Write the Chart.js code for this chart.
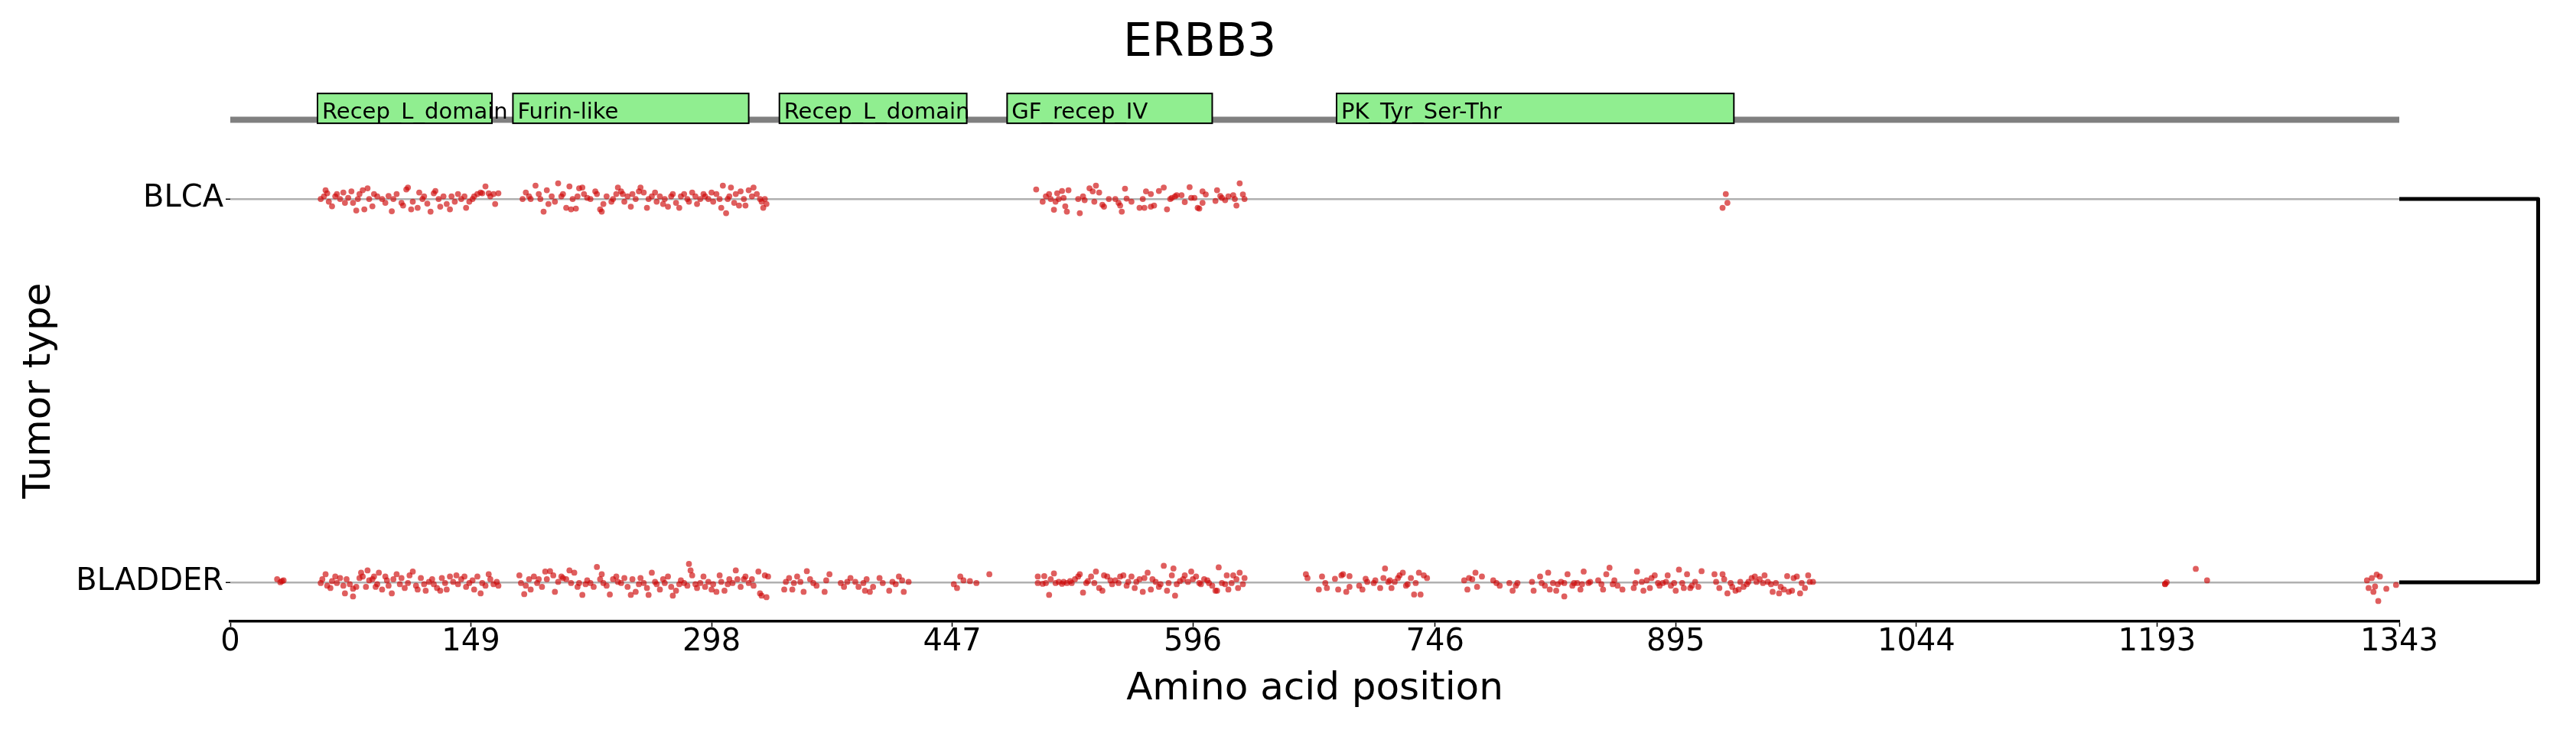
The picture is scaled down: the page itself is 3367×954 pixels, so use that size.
<!DOCTYPE html>
<html>
<head>
<meta charset="utf-8">
<script src="https://cdn.jsdelivr.net/npm/chart.js@4.4.1/dist/chart.umd.min.js"></script>
<style>
  html, body { margin: 0; padding: 0; background: #fff; }
  canvas { display: block; }
</style>
</head>
<body>
<canvas id="mutChart" width="3367" height="954"></canvas>
<script>
const proteinName = 'ERBB3';
const proteinLength = 1343;
const tumorTypes = ['BLADDER', 'BLCA'];   // y = 0, y = 1
const xTickValues = [0, 149, 298, 447, 596, 746, 895, 1044, 1193, 1343];

// Pfam domains (amino acid ranges)
const domainNames = ['Recep_L_domain', 'Furin-like', 'Recep_L_domain', 'GF_recep_IV', 'PK_Tyr_Ser-Thr'];
const domainStart = [54, 175, 340, 481, 685];
const domainEnd = [162, 321, 456, 608, 931];

// mutation positions (amino acid) and vertical jitter (% of row spacing)
const blcaPos = [
  56,58,59,60,61,63,65,66,68,70,71,73,75,76,78,79,80,82,83,85,86,88,89,91,94,96,98,100,101,103,
  106,107,109,110,112,113,116,117,119,120,122,124,126,127,129,130,132,134,136,137,139,141,143,145,146,
  148,150,151,153,155,156,158,160,161,163,164,166,
  181,183,185,186,189,191,192,194,196,197,199,201,203,205,206,208,210,211,212,214,215,216,218,219,221,
  223,226,227,229,230,231,233,236,237,239,240,242,243,244,246,248,249,251,253,254,256,258,259,261,263,
  264,266,268,269,271,273,274,276,278,279,281,283,284,286,288,289,291,293,294,296,298,299,301,303,304,
  305,307,308,309,310,312,313,315,316,318,319,321,323,324,326,328,329,330,331,332,
  499,503,505,507,508,510,511,512,513,515,516,517,518,519,525,526,528,529,532,534,535,536,538,540,541,
  544,548,550,551,552,554,555,558,563,565,566,567,570,570,572,575,578,580,582,583,585,586,589,591,594,
  595,597,599,600,602,602,604,610,611,613,614,616,618,621,622,623,625,627,628,
  924,926,927
];
const blcaJit = [
  0,0.7,2.3,1.5,-0.7,-1.9,0.7,1.3,0,1.7,-1,0.3,2,-1,-3,0,1.3,2.3,-2.7,2.8,0,-1.9,1.3,0.7,0,-1,0.8,-3.2,0,1.3,
  -1,-1.7,2.5,3,-2.7,-0.7,-2.3,1.7,0,0.7,-1.2,-3.3,1.5,2.1,0,-2,0.7,-1.3,-2.7,0.7,-0.7,1.3,0,0.7,-2.3,
  -0.7,0,0.7,1.3,1.7,1.5,3.3,1.5,0.7,1.3,-1.3,1.5,
  0,1.7,0.7,0,3.5,1.3,0,-3.3,2.3,-1.3,0.7,-0.7,4.1,0.7,1.3,-2.3,3.3,-2.7,0,-2.5,0.7,2.8,3,1.3,0.3,
  0,2,1.3,-2.7,-3.3,-1.3,0.7,-0.7,0,1.3,3,2,1.3,-0.7,0.7,-2,1.3,0,2,3,1.7,-2.3,0,0.7,1.7,
  -0.7,0.7,-1.3,0,-2,0.7,1.3,-1,-2.3,0.7,1.3,0,-0.7,1.7,0.7,-1.3,0,1.3,0.7,0,1.7,-0.7,1.3,0,-2.3,
  3.5,-3.7,0,0.7,3,-1,1.3,-1.7,2,0,-1.7,2.3,0.7,3,1.3,0,-0.7,-2.3,0,-1.3,
  2.5,-0.7,0.7,1.3,0,-2.8,-0.7,1.5,0,2.1,0.3,-1.9,-3.3,2.3,0,-3.7,0.7,-0.3,2.8,2,-0.7,3.5,1.7,-1.5,-2,
  0,0,-1,-1.7,-3.3,2.7,0.1,-0.7,-2.3,0,-2.3,2,-2,1.3,-1.7,2.1,3,-2.7,0,0.3,0.7,1,1,-0.8,3.1,
  0.3,0.3,-2.3,-2.5,2,-1,1.2,-0.5,2.3,0.8,0.3,-0.3,0.7,1,0,-1.7,4.1,1.2,0,
  -2.3,1.3,-1
];
const bladderPos = [
  29,31,32,33,
  56,57,59,60,62,63,65,66,68,70,71,72,74,76,76,78,80,81,82,84,85,86,88,89,90,91,92,94,96,97,
  98,100,101,103,105,106,108,110,111,113,115,116,118,120,121,123,125,126,128,130,131,133,134,136,138,
  140,141,143,145,146,148,150,151,153,155,156,158,160,161,163,165,166,
  179,180,182,183,185,186,188,190,191,193,195,196,198,200,201,203,205,206,208,210,211,213,215,216,218,
  220,221,223,225,227,229,230,231,233,235,237,239,240,242,244,246,248,249,251,253,254,256,258,259,261,
  263,264,266,268,269,271,273,274,276,278,279,281,283,284,285,286,288,289,291,293,294,296,298,299,301,
  303,304,306,308,309,311,313,314,316,318,319,321,323,324,327,328,329,331,332,333,
  343,344,346,348,349,351,353,355,357,359,361,363,368,369,371,
  378,380,382,384,387,389,392,393,394,396,398,402,404,408,410,412,414,416,417,420,
  448,450,452,454,458,462,470,
  500,500,503,504,505,507,508,510,511,513,515,516,518,520,521,523,525,526,528,530,531,533,535,536,538,
  540,541,543,545,546,548,550,551,553,555,556,558,560,561,563,565,566,568,570,571,573,575,576,578,580,
  581,583,584,585,586,588,590,591,593,595,596,598,600,601,603,605,606,608,610,611,612,614,616,617,618,
  620,621,623,624,625,627,628,
  666,667,674,676,678,679,684,686,688,689,691,693,693,699,701,703,704,708,709,712,714,715,717,718,719,
  721,723,724,726,728,729,731,733,734,736,737,739,741,
  764,766,767,769,771,772,775,782,784,786,792,794,796,797,806,807,811,812,814,816,817,819,821,822,824,
  826,826,828,831,832,834,836,837,838,841,842,847,849,850,852,854,856,857,859,862,869,870,871,874,875,
  877,879,880,882,884,885,887,889,890,892,894,895,897,899,900,902,904,905,907,909,911,919,920,922,924,
  925,927,929,930,932,934,935,937,939,940,942,944,945,947,949,950,952,954,955,957,959,960,962,964,965,
  967,968,970,972,973,975,977,978,980,
  1198,1198,1199,1217,1224,
  1323,1324,1326,1327,1328,1329,1331,1330,1335,1341
];
const bladderJit = [
  0.8,0,0.3,0.5,
  -0.2,0.8,2.1,-0.9,-1.5,0.3,1.5,-0.2,1.1,-0.9,-2.9,0.8,-0.5,-1.7,-3.7,-1.2,1.1,2.5,1.5,-1.2,3.1,0.5,0.8,1.5,-1.2,-0.5,2.5,-1.9,1.5,0.5,
  -0.9,-2.9,0.8,2.1,-0.5,1.1,-1.5,-0.2,1.8,2.8,-0.9,-1.9,1.1,-0.5,-2.2,0.1,0.8,-0.5,-1.5,-2.2,1.1,-0.2,-1.9,1.5,0.1,
  1.8,-0.5,0.8,1.5,-1.2,-0.2,0.5,-1.9,1.5,-2.9,-0.2,-0.9,2.1,0.8,-0.5,0.1,-0.9,
  1.8,-0.2,-3.1,-0.9,0.8,-1.9,1.5,-0.2,0.8,-1.2,2.8,0.8,2.9,1.8,-2.5,0.1,1.5,1.1,0.8,3.1,-0.2,2.5,-1.2,-0.2,-3.3,
  -0.5,0.5,-0.2,-1.2,4,0.8,2.1,-0.2,-0.9,-3.2,0.8,1.5,0.1,-0.2,1.1,-1.2,-3.3,0.8,-2.5,-0.5,1.1,-0.2,-1.5,-3.3,2.5,
  0.1,-0.5,-1.9,0.8,-0.2,1.5,-1.2,-3.5,-2.2,-0.5,0.5,-0.2,-0.9,4.8,3.1,1.8,-0.5,-1.5,-0.2,1.5,-1.2,0.1,-1.9,-0.5,-2.5,
  1.8,0.1,-2.2,-0.5,0.8,-0.2,3.1,0.8,-1.2,0.8,1.5,-0.2,0.8,-0.9,2.8,-2.9,-3.5,1.8,-3.9,1.5,
  -1.9,0.1,1.1,-1.9,-0.2,1.5,0.1,-2.5,2.9,0.8,-0.2,-0.9,-2.5,0.5,2.1,
  -0.2,-1.2,0.1,1.1,0.1,-1.2,-0.2,-2.2,0.8,-2.5,-1.2,1.1,-0.2,-2.2,0.1,-0.5,1.5,0.5,-2.5,0.1,
  -0.5,-1.5,1.5,0.5,0.3,-0.2,2.1,
  1.5,-0.2,-0.4,1.6,-0.2,-3.3,0.8,2.3,-0.2,0.1,-0.4,0.1,-0.2,0.3,-0.2,0.8,1.5,2.1,-2.7,-0.2,0.3,1.5,-0.2,2.8,-1.5,
  -2.2,1.8,1.5,0.5,-0.5,0.5,-0.2,1.5,1.8,-0.9,0.1,1.5,-1.5,0.1,0.8,-2.5,1.1,2.5,-1.9,0.8,0.1,-1.2,-0.5,4.3,-2.2,
  -0.2,1.8,3.6,-3.5,-0.5,0.3,0.8,1.8,0.1,2.8,0.8,1.5,-0.2,-0.5,0.8,0.5,-0.2,-0.9,-2.2,-2.2,3.9,-0.2,-0.5,1.8,-1.9,
  -0.2,1.8,0.8,-1.5,2.5,-0.5,1.1,
  2.1,1.1,-1.9,1.5,-0.2,-1.5,0.9,-1.9,1.8,2.1,-2.5,1.6,-1.2,-0.9,-1.9,0.9,0.1,-0.2,0.5,-1.5,1.1,3.6,0.1,0.5,-1.5,
  0.1,1.1,1.8,2.5,-0.9,-0.5,1.1,-3.2,-0.2,2.5,-3.2,1.8,1.1,
  0.5,-1.9,1.1,0.8,2.5,-1.2,1.5,0.5,-0.2,-0.9,-0.2,-2.2,-0.9,-0.2,0.1,-2.2,1.5,-0.2,-0.9,2.5,-1.9,-0.2,-2.2,-0.5,0.1,
  -0.2,-3.7,2.1,-0.9,-0.2,-0.2,-1.9,-0.5,2.8,-0.2,0.1,0.5,-0.5,-1.9,2.1,3.8,-0.5,0.5,-0.9,-1.9,-1.5,-0.2,2.8,0.1,-2.2,
  0.5,-1.5,1.1,1.8,-0.2,-0.9,-0.2,0.1,1.8,-0.9,-0.2,-2.2,3.3,-0.2,-1.5,2.1,-1.5,-0.9,0.1,-1.2,2.9,2.1,0.1,-1.5,2.1,
  0.8,-2.9,-0.2,-1.2,-2.2,-1.9,0.1,-1.2,-0.5,0.1,1.1,1.5,0.1,0.8,-0.2,1.8,0.1,-0.5,-2.5,-0.2,-2.9,-1.2,-1.9,1.6,-2.5,
  -2.2,1.1,1.5,-2.9,-0.2,-1.5,1.8,0.1,0.1,
  -0.5,-0.4,0,3.5,0.5,
  0.5,-1.5,1.1,-2.5,-1.1,2,1.5,-4.9,-1.7,-0.7
];

// track geometry in y-axis units (rows at 0 and 1)
const trackY = 1.2066, boxTop = 1.2754, boxBottom = 1.1976, labelY = 1.2096;
const bracketEnd = 1429;

Chart.defaults.font.family = "'DejaVu Sans', sans-serif";
Chart.defaults.color = '#000';

function rowPoints(pos, jit, row) {
  return pos.map((p, i) => ({ x: p, y: row + jit[i] / 100 }));
}

const trackPlugin = {
  id: 'domainTrack',
  afterDraw(chart) {
    const ctx = chart.ctx;
    const x = chart.scales.x;
    const y = chart.scales.y;
    ctx.save();
    // protein backbone
    ctx.strokeStyle = '#808080';
    ctx.lineWidth = 8;
    ctx.beginPath();
    ctx.moveTo(x.getPixelForValue(0), y.getPixelForValue(trackY));
    ctx.lineTo(x.getPixelForValue(proteinLength), y.getPixelForValue(trackY));
    ctx.stroke();
    // domains
    ctx.font = '29px "DejaVu Sans"';
    ctx.textBaseline = 'alphabetic';
    ctx.textAlign = 'left';
    domainNames.forEach((name, i) => {
      const x0 = x.getPixelForValue(domainStart[i]);
      const x1 = x.getPixelForValue(domainEnd[i]);
      const yt = y.getPixelForValue(boxTop);
      const yb = y.getPixelForValue(boxBottom);
      ctx.fillStyle = '#90ee90';
      ctx.fillRect(x0, yt, x1 - x0, yb - yt);
      ctx.strokeStyle = '#000';
      ctx.lineWidth = 2;
      ctx.strokeRect(x0, yt, x1 - x0, yb - yt);
      ctx.fillStyle = '#000';
      ctx.fillText(name, x0 + 6, y.getPixelForValue(labelY));
    });
    // bracket joining the two rows
    ctx.strokeStyle = '#000';
    ctx.lineWidth = 5;
    ctx.lineJoin = 'round';
    ctx.beginPath();
    ctx.moveTo(x.getPixelForValue(proteinLength), y.getPixelForValue(1));
    ctx.lineTo(x.getPixelForValue(bracketEnd), y.getPixelForValue(1));
    ctx.lineTo(x.getPixelForValue(bracketEnd), y.getPixelForValue(0));
    ctx.lineTo(x.getPixelForValue(proteinLength), y.getPixelForValue(0));
    ctx.stroke();
    ctx.restore();
  }
};

const pointStyle = {
  pointRadius: 3.9,
  pointBorderWidth: 0,
  backgroundColor: 'rgba(206, 8, 8, 0.65)',
  borderColor: 'rgba(206, 8, 8, 0.65)'
};

new Chart(document.getElementById('mutChart'), {
  type: 'scatter',
  data: {
    datasets: [
      Object.assign({ label: 'BLCA', data: rowPoints(blcaPos, blcaJit, 1) }, pointStyle),
      Object.assign({ label: 'BLADDER', data: rowPoints(bladderPos, bladderJit, 0) }, pointStyle)
    ]
  },
  options: {
    responsive: false,
    animation: false,
    devicePixelRatio: 1,
    layout: { padding: { left: 0, right: 231, top: 0, bottom: 0 } },
    plugins: {
      legend: { display: false },
      tooltip: { enabled: false },
      title: {
        display: true,
        text: proteinName,
        color: '#000',
        font: { size: 60, weight: 'normal' },
        padding: { top: 21.5, bottom: 115.5 }
      }
    },
    scales: {
      x: {
        type: 'linear',
        min: 0,
        max: proteinLength,
        afterBuildTicks: s => { s.ticks = xTickValues.map(v => ({ value: v })); },
        afterFit: s => { s.height = 142; },
        ticks: { font: { size: 40 }, color: '#000', padding: -3, maxRotation: 0, autoSkip: false, callback: v => String(v) },
        grid: { drawOnChartArea: false, drawTicks: true, tickLength: 7, tickColor: '#000', tickWidth: 1.5 },
        border: { display: true, color: '#000', width: 3.5 },
        title: { display: true, text: 'Amino acid position', color: '#000', font: { size: 50 }, padding: { top: 0, bottom: 23 } }
      },
      y: {
        type: 'linear',
        min: -0.102,
        max: 1.102,
        afterBuildTicks: s => { s.ticks = [{ value: 0 }, { value: 1 }]; },
        afterFit: s => { s.width = 301; },
        ticks: { font: { size: 40 }, color: '#000', padding: 3, callback: v => tumorTypes[v] },
        grid: { color: '#b0b0b0', lineWidth: 2.5, drawTicks: true, tickLength: 6, tickColor: '#000', tickWidth: 1.5 },
        border: { display: false },
        title: { display: true, text: 'Tumor type', color: '#000', font: { size: 50 }, padding: { top: 22, bottom: 0 } }
      }
    }
  },
  plugins: [trackPlugin]
});
</script>
</body>
</html>
